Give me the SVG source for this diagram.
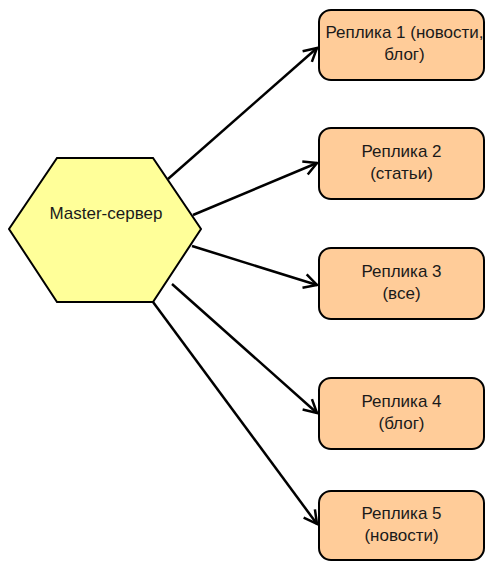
<svg xmlns="http://www.w3.org/2000/svg" width="486" height="561" viewBox="0 0 486 561">
<style>
.box{fill:#FFCC99;stroke:#000;stroke-width:2}
.hex{fill:#FFFF99;stroke:#000;stroke-width:2}
.t{font-family:"Liberation Sans",Arial,sans-serif;font-size:17px;fill:#1a1a1a;text-anchor:middle}
.c{stroke:#000;stroke-width:2.5;fill:none;marker-end:url(#ah)}
</style>
<defs>
<marker id="ah" markerUnits="userSpaceOnUse" markerWidth="30" markerHeight="30" refX="0" refY="0" viewBox="-15 -15 30 30" orient="auto" overflow="visible">
<path d="M-13,-7 L0,0 L-13,7" fill="none" stroke="#000" stroke-width="2.5"/>
</marker>
</defs>
<rect width="486" height="561" fill="#fff"/>
<g id="connectors">
<line class="c" x1="168" y1="179" x2="317" y2="48"/>
<line class="c" x1="193" y1="215" x2="317" y2="163"/>
<line class="c" x1="192" y1="246" x2="317" y2="285"/>
<line class="c" x1="172" y1="284" x2="317" y2="413"/>
<line class="c" x1="153" y1="302" x2="317" y2="524"/>
</g>
<g id="master">
<polygon class="hex" points="57,158 153,158 201,229 153,302 57,302 9,229"/>
<text class="t" x="106" y="219">Master-сервер</text>
</g>
<g id="replica1">
<rect class="box" x="319" y="10" width="165" height="70" rx="12"/>
<text class="t" x="404.5" y="38">Реплика 1 (новости,</text>
<text class="t" x="404.5" y="60">блог)</text>
</g>
<g id="replica2">
<rect class="box" x="319" y="128" width="165" height="71" rx="12"/>
<text class="t" x="401.5" y="157">Реплика 2</text>
<text class="t" x="401.5" y="179">(статьи)</text>
</g>
<g id="replica3">
<rect class="box" x="319" y="248" width="165" height="71" rx="12"/>
<text class="t" x="401.5" y="277">Реплика 3</text>
<text class="t" x="401.5" y="299">(все)</text>
</g>
<g id="replica4">
<rect class="box" x="319" y="378" width="165" height="71" rx="12"/>
<text class="t" x="401.5" y="407">Реплика 4</text>
<text class="t" x="401.5" y="429">(блог)</text>
</g>
<g id="replica5">
<rect class="box" x="319" y="491" width="165" height="69" rx="12"/>
<text class="t" x="401.5" y="519">Реплика 5</text>
<text class="t" x="401.5" y="541">(новости)</text>
</g>
</svg>
